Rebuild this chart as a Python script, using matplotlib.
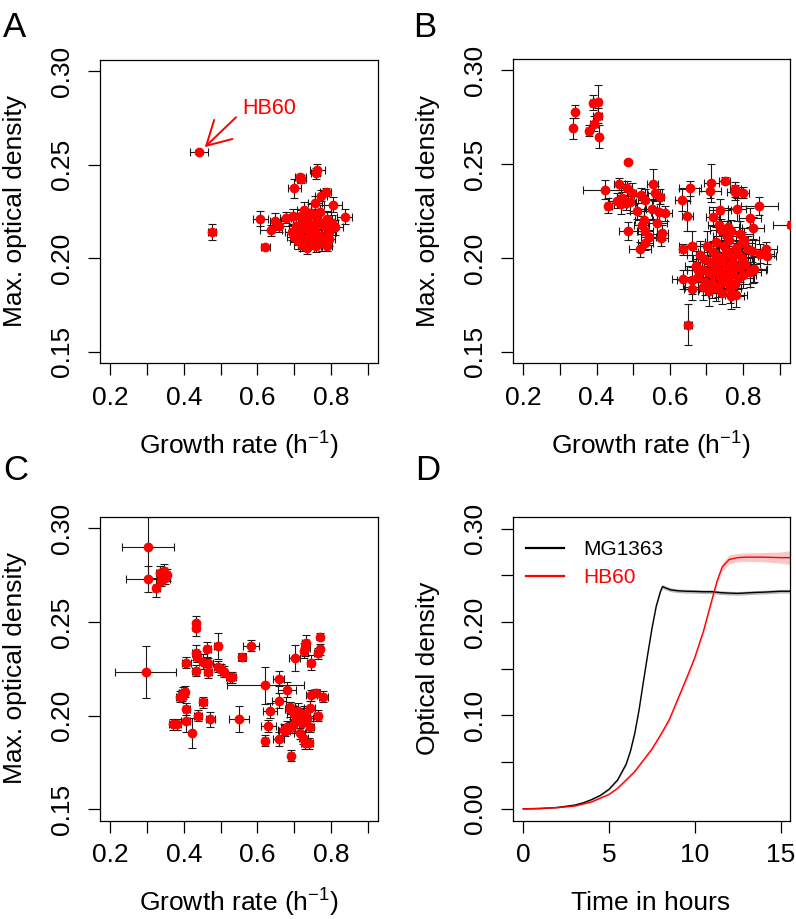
import matplotlib
matplotlib.use("Agg")
import matplotlib.pyplot as plt
import numpy as np

plt.rcParams['font.family'] = ['Liberation Sans', 'DejaVu Sans']
plt.rcParams['mathtext.fontset'] = 'custom'
plt.rcParams['mathtext.rm'] = 'Liberation Sans'
plt.rcParams['mathtext.it'] = 'Liberation Sans:italic'

# ---- panel A: growth rate vs max OD (x, y, xerr, yerr)
a_x = [0.441, 0.477, 0.622, 0.608, 0.648, 0.638, 0.677, 0.700, 0.716, 0.719,
       0.763, 0.759, 0.773, 0.786, 0.757, 0.805, 0.837, 0.727, 0.698, 0.660,
       0.705, 0.712, 0.720, 0.728, 0.735, 0.742, 0.750, 0.758, 0.765, 0.772,
       0.780, 0.788, 0.795, 0.802, 0.710, 0.722, 0.735, 0.748, 0.760, 0.775,
       0.789, 0.718, 0.745, 0.770, 0.752, 0.738, 0.728, 0.765, 0.783, 0.695,
       0.700, 0.744, 0.756, 0.733, 0.812, 0.795]
a_y = [0.257, 0.214, 0.206, 0.221, 0.220, 0.215, 0.2216, 0.2374, 0.2433, 0.2425,
       0.2474, 0.2455, 0.2335, 0.2353, 0.2294, 0.2287, 0.2223, 0.2259, 0.2225, 0.217,
       0.217, 0.214, 0.219, 0.216, 0.221, 0.213, 0.218, 0.215, 0.220, 0.212,
       0.217, 0.221, 0.214, 0.219, 0.209, 0.207, 0.2055, 0.209, 0.2065, 0.208,
       0.2067, 0.2225, 0.224, 0.2245, 0.211, 0.2115, 0.2105, 0.2115, 0.2115, 0.214,
       0.2115, 0.2165, 0.2225, 0.2175, 0.2165, 0.2105]
a_xerr = [0.024, 0.011, 0.012, 0.020, 0.015, 0.030, 0.015, 0.018, 0.015, 0.012,
          0.020, 0.012, 0.015, 0.015, 0.020, 0.025, 0.020, 0.020, 0.020, 0.025,
          0.020, 0.018, 0.022, 0.020, 0.025, 0.018, 0.020, 0.022, 0.025, 0.020,
          0.018, 0.022, 0.020, 0.018, 0.020, 0.022, 0.018, 0.020, 0.025, 0.020,
          0.015, 0.025, 0.020, 0.030, 0.020, 0.018, 0.022, 0.020, 0.018, 0.020,
          0.020, 0.022, 0.018, 0.020, 0.020, 0.015]
a_yerr = [0.001, 0.0045, 0.001, 0.004, 0.004, 0.003, 0.003, 0.005, 0.002, 0.002,
          0.003, 0.003, 0.003, 0.002, 0.004, 0.004, 0.004, 0.004, 0.004, 0.003,
          0.004, 0.004, 0.005, 0.004, 0.004, 0.004, 0.005, 0.004, 0.004, 0.005,
          0.004, 0.004, 0.005, 0.004, 0.004, 0.003, 0.003, 0.004, 0.003, 0.004,
          0.003, 0.004, 0.005, 0.004, 0.004, 0.004, 0.004, 0.004, 0.004, 0.004,
          0.003, 0.005, 0.004, 0.004, 0.004, 0.004]

# ---- panel B
b_x = [0.341, 0.335, 0.389, 0.4035, 0.403, 0.393, 0.380, 0.406,
       0.486, 0.423, 0.432, 0.4616, 0.482, 0.497, 0.455, 0.466, 0.480, 0.492, 0.470,
       0.521, 0.533, 0.554, 0.559, 0.5725, 0.570, 0.586, 0.530, 0.523, 0.566, 0.533,
       0.579, 0.486, 0.542, 0.575, 0.533, 0.518, 0.550, 0.510,
       0.634, 0.656, 0.647, 0.636, 0.637, 0.660, 0.650, 0.713, 0.709, 0.7497,
       0.778, 0.777, 0.801, 0.784, 0.736, 0.718, 0.818, 0.844, 0.931, 0.863, 0.865, 0.845,
       0.741, 0.757, 0.768, 0.792, 0.803, 0.726, 0.747, 0.761, 0.781, 0.797,
       0.813, 0.702, 0.717, 0.729, 0.752, 0.769, 0.786, 0.798, 0.824, 0.683,
       0.694, 0.711, 0.727, 0.744, 0.756, 0.773, 0.791, 0.806, 0.829, 0.671,
       0.687, 0.703, 0.716, 0.738, 0.749, 0.766, 0.787, 0.801, 0.818, 0.676,
       0.696, 0.714, 0.731, 0.746, 0.763, 0.779, 0.725, 0.706, 0.743, 0.767,
       0.781, 0.691, 0.760, 0.733, 0.660, 0.677, 0.827, 0.827, 0.660, 0.735,
       0.758, 0.775, 0.752, 0.738, 0.722, 0.760]
b_y = [0.278, 0.269, 0.2826, 0.283, 0.2758, 0.2715, 0.2678, 0.2646,
       0.251, 0.2364, 0.2277, 0.2394, 0.237, 0.2348, 0.2305, 0.2285, 0.2295, 0.230, 0.232,
       0.2335, 0.2309, 0.2392, 0.2344, 0.2326, 0.2246, 0.2237, 0.2202, 0.2175, 0.2187, 0.2144,
       0.2134, 0.2144, 0.2109, 0.2104, 0.208, 0.2045, 0.226, 0.225,
       0.2309, 0.237, 0.2223, 0.2045, 0.1886, 0.1836, 0.1645, 0.2398, 0.2358, 0.2412,
       0.2365, 0.2351, 0.2348, 0.2259, 0.2255, 0.222, 0.2214, 0.2277, 0.2178, 0.2045, 0.2009, 0.2023,
       0.2148, 0.2117, 0.2142, 0.2126, 0.2098, 0.2087, 0.2063, 0.2094, 0.2055, 0.2079,
       0.2049, 0.2061, 0.2032, 0.2011, 0.2028, 0.2005, 0.2021, 0.1997, 0.2036, 0.2018,
       0.1993, 0.1978, 0.1969, 0.1985, 0.1958, 0.1972, 0.1951, 0.1966, 0.1942, 0.1955,
       0.1938, 0.1924, 0.1912, 0.1931, 0.1903, 0.1917, 0.1894, 0.1908, 0.1926, 0.1896,
       0.1873, 0.1865, 0.1852, 0.1874, 0.1842, 0.1861, 0.1838, 0.1822, 0.1813, 0.1797,
       0.1801, 0.1847, 0.2165, 0.2175, 0.2065, 0.1934, 0.1934, 0.2159, 0.188, 0.200,
       0.203, 0.194, 0.196, 0.190, 0.194, 0.188]
b_xerr = [0.006, 0.006, 0.008, 0.010, 0.012, 0.010, 0.008, 0.006,
          0.001, 0.060, 0.010, 0.015, 0.015, 0.012, 0.020, 0.018, 0.025, 0.015, 0.015,
          0.020, 0.020, 0.015, 0.020, 0.012, 0.020, 0.020, 0.025, 0.020, 0.025, 0.020,
          0.015, 0.025, 0.020, 0.020, 0.020, 0.030, 0.015, 0.020,
          0.020, 0.030, 0.015, 0.010, 0.030, 0.020, 0.010, 0.020, 0.030, 0.015,
          0.015, 0.020, 0.015, 0.025, 0.030, 0.020, 0.030, 0.050, 0.050, 0.030, 0.025, 0.040,
          0.030, 0.040, 0.030, 0.035, 0.040, 0.030, 0.035, 0.040, 0.030, 0.035,
          0.040, 0.030, 0.040, 0.035, 0.030, 0.040, 0.035, 0.030, 0.040, 0.035,
          0.030, 0.040, 0.035, 0.030, 0.040, 0.035, 0.030, 0.040, 0.035, 0.030,
          0.040, 0.035, 0.030, 0.040, 0.035, 0.030, 0.040, 0.035, 0.030, 0.040,
          0.035, 0.030, 0.040, 0.035, 0.030, 0.040, 0.035, 0.030, 0.040, 0.035,
          0.030, 0.050, 0.030, 0.030, 0.035, 0.030, 0.035, 0.030, 0.040, 0.030,
          0.035, 0.030, 0.040, 0.030, 0.035, 0.030]
b_yerr = [0.0036, 0.0056, 0.004, 0.009, 0.004, 0.004, 0.003, 0.006,
          0.001, 0.005, 0.004, 0.003, 0.004, 0.005, 0.004, 0.005, 0.004, 0.006, 0.003,
          0.004, 0.006, 0.008, 0.004, 0.004, 0.006, 0.004, 0.006, 0.005, 0.006, 0.005,
          0.004, 0.005, 0.004, 0.004, 0.004, 0.004, 0.005, 0.004,
          0.006, 0.004, 0.008, 0.003, 0.005, 0.006, 0.0107, 0.010, 0.004, 0.002,
          0.004, 0.004, 0.003, 0.006, 0.006, 0.005, 0.005, 0.005, 0.002, 0.004, 0.004, 0.005,
          0.006, 0.008, 0.006, 0.007, 0.006, 0.008, 0.006, 0.007, 0.008, 0.006,
          0.007, 0.008, 0.006, 0.007, 0.008, 0.006, 0.007, 0.008, 0.006, 0.007,
          0.008, 0.006, 0.007, 0.008, 0.006, 0.007, 0.008, 0.006, 0.007, 0.008,
          0.006, 0.007, 0.008, 0.006, 0.007, 0.008, 0.006, 0.007, 0.008, 0.006,
          0.007, 0.008, 0.006, 0.007, 0.008, 0.006, 0.007, 0.008, 0.006, 0.007,
          0.006, 0.007, 0.010, 0.006, 0.008, 0.006, 0.007, 0.006, 0.007, 0.008,
          0.007, 0.006, 0.008, 0.007, 0.006, 0.008]

# ---- panel C
c_x = [0.3025, 0.3025, 0.325, 0.334, 0.340, 0.345, 0.350, 0.338, 0.354,
       0.434, 0.434, 0.464, 0.4916, 0.4324, 0.436, 0.407, 0.4324, 0.452, 0.466,
       0.466, 0.4932, 0.502, 0.5087, 0.526, 0.532, 0.5586, 0.583, 0.296, 0.622,
       0.6586, 0.680, 0.6586, 0.634, 0.6295, 0.620, 0.6586, 0.691, 0.702, 0.731,
       0.730, 0.728, 0.745, 0.764, 0.770, 0.770, 0.746, 0.7586, 0.779, 0.764, 0.743,
       0.690, 0.700, 0.710, 0.718, 0.705, 0.720, 0.728, 0.735, 0.698, 0.688,
       0.675, 0.743, 0.730, 0.740, 0.680, 0.672, 0.690, 0.715, 0.725,
       0.4025, 0.395, 0.390, 0.398, 0.407, 0.452, 0.4387, 0.472, 0.405, 0.371,
       0.381, 0.4234, 0.550]
c_y = [0.2902, 0.2728, 0.2683, 0.276, 0.2745, 0.277, 0.2735, 0.272, 0.275,
       0.2493, 0.2466, 0.2354, 0.2373, 0.2336, 0.2315, 0.2282, 0.224, 0.2287, 0.2279,
       0.2232, 0.2261, 0.2247, 0.2234, 0.2204, 0.2204, 0.2314, 0.2373, 0.2231, 0.2162,
       0.2197, 0.2137, 0.208, 0.2026, 0.1944, 0.1866, 0.1875, 0.1786, 0.2309, 0.2389,
       0.236, 0.2345, 0.2281, 0.2333, 0.2354, 0.2421, 0.2109, 0.2122, 0.2101, 0.200, 0.2039,
       0.2035, 0.201, 0.2025, 0.200, 0.1975, 0.196, 0.201, 0.1985, 0.195, 0.1935,
       0.192, 0.194, 0.1853, 0.1853, 0.194, 0.1925, 0.2045, 0.1905, 0.188,
       0.2128, 0.2106, 0.210, 0.212, 0.2035, 0.2071, 0.1999, 0.1981, 0.1973, 0.1954,
       0.1954, 0.1905, 0.1982]
c_xerr = [0.070, 0.061, 0.010, 0.010, 0.012, 0.010, 0.012, 0.010, 0.008,
          0.005, 0.005, 0.010, 0.010, 0.010, 0.012, 0.012, 0.010, 0.012, 0.012,
          0.010, 0.012, 0.010, 0.010, 0.010, 0.010, 0.010, 0.022, 0.084, 0.105,
          0.015, 0.025, 0.020, 0.020, 0.020, 0.008, 0.015, 0.008, 0.015, 0.010,
          0.012, 0.010, 0.010, 0.010, 0.008, 0.006, 0.015, 0.012, 0.012, 0.010, 0.015,
          0.015, 0.020, 0.015, 0.015, 0.015, 0.015, 0.015, 0.015, 0.015, 0.015,
          0.015, 0.012, 0.012, 0.012, 0.015, 0.015, 0.012, 0.015, 0.012,
          0.010, 0.010, 0.010, 0.010, 0.010, 0.012, 0.012, 0.012, 0.012, 0.010,
          0.010, 0.005, 0.027]
c_yerr = [0.016, 0.0068, 0.005, 0.004, 0.003, 0.004, 0.003, 0.003, 0.003,
          0.004, 0.004, 0.004, 0.007, 0.004, 0.003, 0.003, 0.003, 0.004, 0.003,
          0.003, 0.003, 0.003, 0.003, 0.003, 0.003, 0.002, 0.003, 0.0138, 0.010,
          0.004, 0.004, 0.004, 0.004, 0.003, 0.003, 0.004, 0.003, 0.007, 0.004,
          0.004, 0.004, 0.004, 0.003, 0.003, 0.002, 0.003, 0.002, 0.003, 0.003, 0.004,
          0.004, 0.004, 0.004, 0.004, 0.004, 0.004, 0.004, 0.004, 0.003, 0.003,
          0.003, 0.003, 0.003, 0.003, 0.003, 0.003, 0.003, 0.003, 0.003,
          0.003, 0.003, 0.003, 0.003, 0.003, 0.003, 0.003, 0.004, 0.006, 0.003,
          0.003, 0.008, 0.007]

# ---- panel D: growth curves
t_mg = [0, 1, 2, 3, 3.5, 4, 4.5, 5, 5.5, 6, 6.25, 6.5, 6.75, 7, 7.25, 7.5, 7.75,
        8, 8.12, 8.3, 8.6, 9, 9.5, 10, 10.5, 11, 11.5, 12, 12.5, 13, 13.5, 14,
        14.5, 15, 15.6]
od_mg = [0, 0.0003, 0.0015, 0.004, 0.0065, 0.010, 0.0145, 0.021, 0.031, 0.048,
         0.062, 0.081, 0.106, 0.136, 0.165, 0.193, 0.217, 0.233, 0.238, 0.2365,
         0.2345, 0.2335, 0.233, 0.2328, 0.2325, 0.2325, 0.2315, 0.231, 0.2307,
         0.2312, 0.2317, 0.232, 0.2325, 0.233, 0.233]
sd_mg = [0.0005, 0.0005, 0.0005, 0.0005, 0.0005, 0.0008, 0.001, 0.001, 0.0012,
         0.0015, 0.0015, 0.0015, 0.0015, 0.0015, 0.0015, 0.0015, 0.0015, 0.0018,
         0.002, 0.002, 0.002, 0.002, 0.002, 0.002, 0.002, 0.002, 0.002, 0.002,
         0.002, 0.002, 0.002, 0.002, 0.002, 0.002, 0.002]
t_hb = [0, 1, 2, 3, 4, 5, 5.5, 6, 6.5, 7, 7.5, 8, 8.5, 9, 9.5, 10, 10.5, 11,
        11.3, 11.6, 12, 12.5, 13, 14, 15, 15.6]
od_hb = [0, 0.0005, 0.0013, 0.003, 0.0075, 0.0155, 0.022, 0.031, 0.040, 0.052,
         0.064, 0.079, 0.095, 0.117, 0.139, 0.162, 0.190, 0.224, 0.244, 0.259,
         0.267, 0.269, 0.2695, 0.2695, 0.269, 0.269]
sd_hb = [0.0005, 0.0005, 0.0005, 0.0006, 0.0008, 0.001, 0.0012, 0.0015, 0.0018,
         0.002, 0.002, 0.0022, 0.0025, 0.0028, 0.003, 0.003, 0.0032, 0.0035,
         0.004, 0.0045, 0.0045, 0.0045, 0.0045, 0.005, 0.006, 0.0075]

W, H = 796, 919
TICK = 19
LAB = 19


def box(px0, py0, px1, py1):
    return [px0 / W, 1 - py1 / H, (px1 - px0) / W, (py1 - py0) / H]


def style(ax):
    for s in ax.spines.values():
        s.set_linewidth(0.9)
    ax.tick_params(direction='out', length=8.5, width=0.9, labelsize=TICK)
    ax.tick_params(axis='x', pad=8)
    ax.tick_params(axis='y', pad=10)
    for lab in ax.get_yticklabels():
        lab.set_rotation(90)
        lab.set_va('center')


def scatter_panel(ax, x, y, xerr, yerr):
    ax.errorbar(x, y, xerr=xerr, yerr=yerr, fmt='none', ecolor='#1a1a1a',
                elinewidth=0.8, capsize=2.6, capthick=0.8, zorder=2)
    ax.plot(x, y, 'o', color='red', mec='red', ms=6, zorder=3)
    ax.set_xlim(0.172, 0.928)
    ax.set_ylim(0.144, 0.306)
    ax.set_xticks(np.arange(0.2, 0.91, 0.1))
    ax.set_xticklabels(['0.2', '', '0.4', '', '0.6', '', '0.8', ''])
    ax.set_yticks([0.15, 0.20, 0.25, 0.30])
    ax.set_yticklabels(['0.15', '0.20', '0.25', '0.30'])
    style(ax)


fig = plt.figure(figsize=(W / 100, H / 100), dpi=100)

axA = fig.add_axes(box(100, 60, 378, 363))
axB = fig.add_axes(box(513, 59, 790, 363))
axC = fig.add_axes(box(100, 517, 378, 820.5))
axD = fig.add_axes(box(513, 517, 790, 820.5))

scatter_panel(axA, a_x, a_y, a_xerr, a_yerr)
scatter_panel(axB, b_x, b_y, b_xerr, b_yerr)
scatter_panel(axC, c_x, c_y, c_xerr, c_yerr)

axA.annotate('', xy=(0.457, 0.2594), xytext=(0.542, 0.2754),
             arrowprops=dict(arrowstyle='->,head_length=1.7,head_width=0.95',
                             color='red', lw=1.4, shrinkA=0, shrinkB=0,
                             mutation_scale=10))
axA.text(0.631, 0.2802, 'HB60', color='red', fontsize=15.5, ha='center', va='center')

# panel D
t_mg_a, od_mg_a, sd_mg_a = map(np.array, (t_mg, od_mg, sd_mg))
t_hb_a, od_hb_a, sd_hb_a = map(np.array, (t_hb, od_hb, sd_hb))
axD.fill_between(t_mg_a, od_mg_a - sd_mg_a, od_mg_a + sd_mg_a, color='#b8b8b8', lw=0)
axD.fill_between(t_hb_a, od_hb_a - sd_hb_a, od_hb_a + sd_hb_a, color='#f6c8c8', lw=0)
axD.plot(t_mg, od_mg, color='black', lw=1.0, label='MG1363')
axD.plot(t_hb, od_hb, color='red', lw=1.0, label='HB60')
axD.set_xlim(-0.6, 15.55)
axD.set_ylim(-0.0125, 0.3125)
axD.set_xticks([0, 5, 10, 15])
axD.set_yticks(np.arange(0, 0.301, 0.05))
axD.set_yticklabels(['0.00', '', '0.10', '', '0.20', '', '0.30'])
style(axD)
leg = axD.legend(loc='upper left', frameon=False, fontsize=15, handlelength=1.85,
                 handletextpad=0.9, labelspacing=0.45, borderaxespad=0.2,
                 bbox_to_anchor=(0.0, 0.965))
for line in leg.get_lines():
    line.set_linewidth(1.6)
leg.get_texts()[1].set_color('red')


def ftext(px, py, s, **kw):
    fig.text(px / W, 1 - py / H, s, **kw)


xl = r'Growth rate (h$^{\mathregular{-1}}$)'
ftext(239, 446, xl, fontsize=LAB, ha='center', va='center')
ftext(651, 446, xl, fontsize=LAB, ha='center', va='center')
ftext(239, 903, xl, fontsize=LAB, ha='center', va='center')
ftext(651, 903, 'Time in hours', fontsize=LAB, ha='center', va='center')
ftext(15, 211, 'Max. optical density', fontsize=LAB, rotation=90, ha='center', va='center')
ftext(428, 211, 'Max. optical density', fontsize=LAB, rotation=90, ha='center', va='center')
ftext(15, 668, 'Max. optical density', fontsize=LAB, rotation=90, ha='center', va='center')
ftext(428, 668, 'Optical density', fontsize=LAB, rotation=90, ha='center', va='center')

for px, py, s in [(3, 37, 'A'), (413, 37, 'B'), (3, 480, 'C'), (415, 480, 'D')]:
    ftext(px, py, s, fontsize=25, ha='left', va='baseline')

fig.savefig('out.png', dpi=100)
